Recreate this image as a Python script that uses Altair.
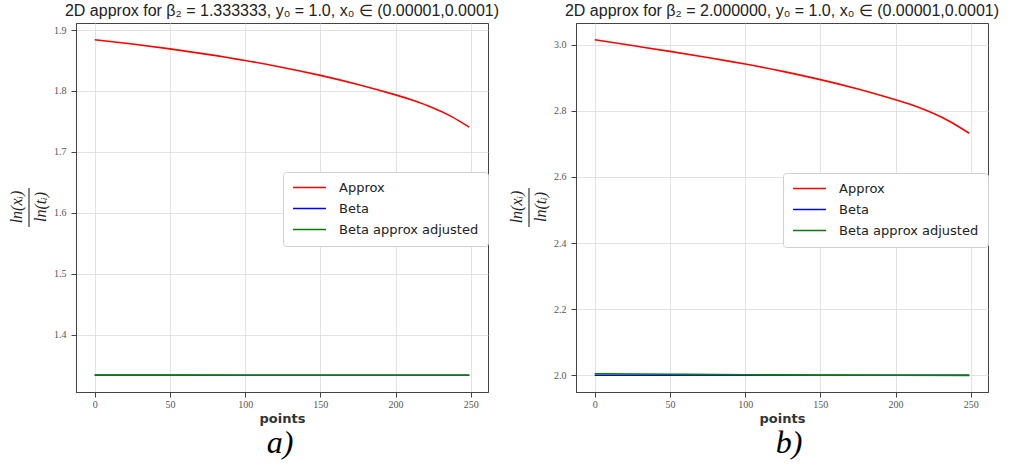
import altair as alt
import pandas as pd

# ---- data ----
series_names = ["Approx", "Beta", "Beta approx adjusted"]
series_colors = ["#ff0000", "#0000ff", "#008000"]

approx_points = [0, 25, 50, 75, 100, 125, 150, 175, 200, 212, 225, 237, 249]
approx_a = [1.884, 1.877, 1.869, 1.860, 1.850, 1.8385, 1.8255, 1.8105, 1.7935, 1.7841, 1.7721, 1.7583, 1.7405]
approx_b = [3.015, 2.9975, 2.980, 2.9615, 2.9415, 2.9195, 2.8945, 2.866, 2.8335, 2.8161, 2.7927, 2.7657, 2.7321]

beta_points = [0, 249]
beta_a = [1.333333, 1.333333]
beta_b = [2.000000, 2.000000]

adj_points = [0, 50, 100, 150, 200, 249]
adj_a = [1.3335, 1.3335, 1.3334, 1.3334, 1.3334, 1.3334]
adj_b = [2.0045, 2.0030, 2.0015, 2.0005, 2.0000, 1.9995]

x_ticks = [0, 50, 100, 150, 200, 250]
y_ticks_a = [1.4, 1.5, 1.6, 1.7, 1.8, 1.9]
y_ticks_b = [2.0, 2.2, 2.4, 2.6, 2.8, 3.0]

title_a = "2D approx for β₂ = 1.333333, y₀ = 1.0, x₀ ∈ (0.00001,0.0001)"
title_b = "2D approx for β₂ = 2.000000, y₀ = 1.0, x₀ ∈ (0.00001,0.0001)"

W, H = 412, 369


def make_df(approx, beta, adj):
    rows = []
    for p, v in zip(approx_points, approx):
        rows.append({"point": p, "value": v, "series": series_names[0]})
    for p, v in zip(beta_points, beta):
        rows.append({"point": p, "value": v, "series": series_names[1]})
    for p, v in zip(adj_points, adj):
        rows.append({"point": p, "value": v, "series": series_names[2]})
    return pd.DataFrame(rows)


def panel(approx, beta, adj, ydomain, yticks, title, letter, letter_x, legend_xy):
    df = make_df(approx, beta, adj)
    xenc = alt.X("point:Q",
                 scale=alt.Scale(domain=[-12.45, 261.45], nice=False, zero=False),
                 axis=alt.Axis(values=x_ticks, title="points", format="d"))
    yenc = alt.Y("value:Q",
                 scale=alt.Scale(domain=ydomain, nice=False, zero=False),
                 axis=alt.Axis(values=yticks, format=".1f", title=None))
    cenc = alt.Color("series:N",
                     scale=alt.Scale(domain=series_names, range=series_colors),
                     legend=alt.Legend(orient="none", legendX=legend_xy[0], legendY=legend_xy[1],
                                       title=None, symbolType="M-1,0L5,0", symbolSize=121,
                                       symbolStrokeWidth=1.6, labelFont="DejaVu Sans",
                                       labelFontSize=13, labelColor="#222", labelOffset=34,
                                       fillColor="white", strokeColor="#d0d0d0",
                                       cornerRadius=3, padding=9, rowPadding=7))
    layers = []
    for name in series_names:
        layers.append(
            alt.Chart(df).transform_filter(alt.datum.series == name)
            .mark_line(strokeWidth=1.6, interpolate="natural")
            .encode(x=xenc, y=yenc, color=cenc)
        )
    one = pd.DataFrame({"k": [0]})
    num = alt.Chart(one).mark_text(text="ln(xᵢ)", angle=270, font="Liberation Serif",
                                   fontStyle="italic", fontSize=16, color="#222",
                                   baseline="middle", align="center").encode(
        x=alt.value(-59), y=alt.value(184))
    den = alt.Chart(one).mark_text(text="ln(tᵢ)", angle=270, font="Liberation Serif",
                                   fontStyle="italic", fontSize=16, color="#222",
                                   baseline="middle", align="center").encode(
        x=alt.value(-35), y=alt.value(184))
    bar = alt.Chart(one).mark_rule(color="#222", strokeWidth=1.1).encode(
        x=alt.value(-47), y=alt.value(165), y2=alt.value(204))
    lab = alt.Chart(one).mark_text(text=letter, font="Liberation Serif", fontStyle="italic",
                                   fontSize=32, color="#000", baseline="middle",
                                   align="center").encode(
        x=alt.value(letter_x), y=alt.value(420))
    return alt.layer(*layers, num, den, bar, lab).properties(
        width=W, height=H,
        title=alt.TitleParams(title, font="Liberation Sans", fontSize=16, fontWeight="normal",
                              color="#222", anchor="middle", offset=4)
    )


pa = panel(approx_a, beta_a, adj_a, [1.3058, 1.9115], y_ticks_a, title_a, "a)", 204, (207, 149))
pb = panel(approx_b, beta_b, adj_b, [1.9493, 3.0658], y_ticks_b, title_b, "b)", 213, (207, 150))

chart = alt.hconcat(pa, pb, spacing=88, bounds="flush").resolve_scale(
    y="independent", color="independent"
).resolve_legend(color="independent").properties(
    padding={"left": 8, "top": 2, "right": 5, "bottom": 0}
).configure_view(
    stroke="#444", strokeWidth=1
).configure_axis(
    grid=True, gridColor="#dcdcdc", gridWidth=0.8,
    domainColor="#444", domainWidth=1, tickColor="#444", tickSize=5, tickWidth=1,
    labelFont="Liberation Serif", labelFontSize=10, labelColor="#555",
    titleFont="DejaVu Sans", titleFontSize=13, titleFontWeight="bold", titleColor="#333"
).configure_axisX(
    labelPadding=2, titlePadding=3
).configure_axisY(
    labelPadding=5
)

chart.save("out.html", embed_options={"renderer": "svg", "actions": False})
